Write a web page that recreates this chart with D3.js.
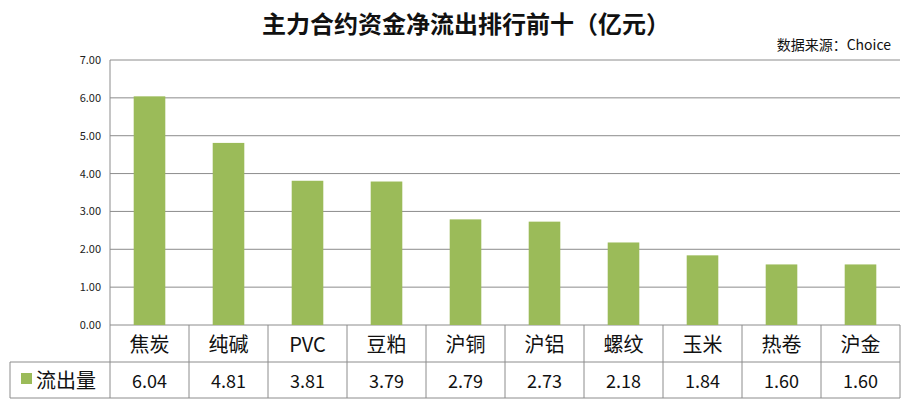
<!DOCTYPE html>
<html>
<head>
<meta charset="utf-8">
<script src="https://d3js.org/d3.v7.min.js"></script>
<style>
  body { margin: 0; background: #fff; }
  text { font-family: "Noto Sans CJK SC", "Open Sans", sans-serif; }
</style>
</head>
<body>
<svg id="chart" width="914" height="411"></svg>
<script>
// data
const categories = ["焦炭", "纯碱", "PVC", "豆粕", "沪铜", "沪铝", "螺纹", "玉米", "热卷", "沪金"];
const outflow = [6.04, 4.81, 3.81, 3.79, 2.79, 2.73, 2.18, 1.84, 1.60, 1.60];
const yTicks = [0, 1, 2, 3, 4, 5, 6, 7];
const seriesName = "流出量";

const green = "#9bbb59";
const gridColor = "#8c8c8c";

const svg = d3.select("#chart");
const plotLeft = 110, plotRight = 900, plotTop = 60, plotBottom = 325, tableBottom = 398, rowMid = 362;

const x = d3.scaleBand().domain(categories).range([plotLeft, plotRight]).paddingInner(0.6).paddingOuter(0.3);
const xCell = d3.scaleBand().domain(categories).range([plotLeft, plotRight]);
const y = d3.scaleLinear().domain([0, 7]).range([plotBottom, plotTop]);

// title
svg.append("text").attr("x", 466).attr("y", 33).attr("text-anchor", "middle")
  .attr("font-size", 24).attr("font-weight", "bold").attr("fill", "#111")
  .text("主力合约资金净流出排行前十（亿元）");
svg.append("text").attr("x", 891).attr("y", 50).attr("text-anchor", "end")
  .attr("font-size", 14).attr("fill", "#111").text("数据来源：Choice");

// grid
svg.append("g").selectAll("line").data(yTicks).join("line")
  .attr("x1", plotLeft).attr("x2", plotRight)
  .attr("y1", d => y(d)).attr("y2", d => y(d))
  .attr("stroke", gridColor).attr("stroke-width", 1);
svg.append("g").selectAll("text").data(yTicks).join("text")
  .attr("x", 101).attr("y", d => y(d) + 4).attr("text-anchor", "end")
  .attr("font-size", 11).attr("fill", "#222").text(d => d.toFixed(2));

// bars
svg.append("g").selectAll("rect").data(outflow).join("rect")
  .attr("x", (d, i) => x(categories[i])).attr("width", x.bandwidth())
  .attr("y", d => y(d)).attr("height", d => plotBottom - y(d))
  .attr("fill", green);

// table
const tbl = svg.append("g");
tbl.append("line").attr("x1", plotLeft).attr("x2", plotLeft).attr("y1", plotTop).attr("y2", tableBottom).attr("stroke", gridColor);
tbl.selectAll(".v").data(categories).join("line")
  .attr("x1", d => xCell(d) + xCell.bandwidth()).attr("x2", d => xCell(d) + xCell.bandwidth())
  .attr("y1", plotBottom).attr("y2", tableBottom).attr("stroke", gridColor);
tbl.append("line").attr("x1", 10).attr("x2", plotRight).attr("y1", rowMid).attr("y2", rowMid).attr("stroke", gridColor);
tbl.append("line").attr("x1", 10).attr("x2", plotRight).attr("y1", tableBottom).attr("y2", tableBottom).attr("stroke", gridColor);
tbl.append("line").attr("x1", 10).attr("x2", 10).attr("y1", rowMid).attr("y2", tableBottom).attr("stroke", gridColor);
tbl.selectAll(".c").data(categories).join("text")
  .attr("x", d => xCell(d) + xCell.bandwidth() / 2).attr("y", 352)
  .attr("text-anchor", "middle").attr("font-size", 20).attr("fill", "#111").text(d => d);
tbl.selectAll(".n").data(outflow).join("text")
  .attr("x", (d, i) => xCell(categories[i]) + xCell.bandwidth() / 2).attr("y", 388)
  .attr("text-anchor", "middle").attr("font-size", 18).attr("fill", "#111").text(d => d.toFixed(2));
tbl.append("rect").attr("x", 21).attr("y", 373).attr("width", 11).attr("height", 11).attr("fill", green);
tbl.append("text").attr("x", 36).attr("y", 388).attr("font-size", 20).attr("fill", "#111").text(seriesName);
</script>
</body>
</html>
